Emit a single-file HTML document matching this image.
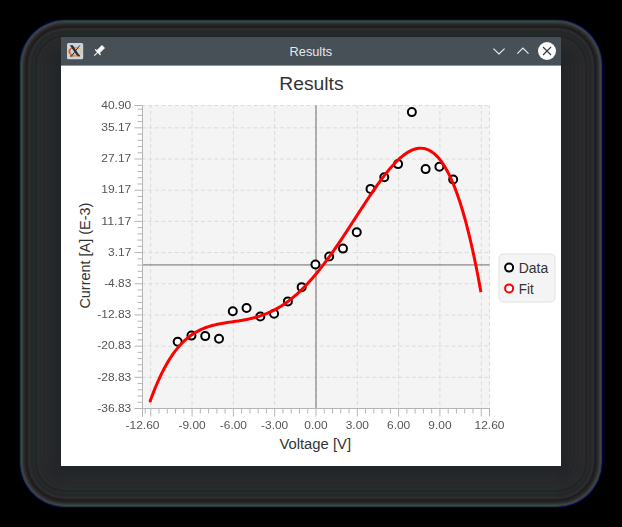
<!DOCTYPE html><html><head><meta charset="utf-8"><style>html,body{margin:0;padding:0;background:#000;width:622px;height:527px;overflow:hidden}svg{display:block}.ov{position:absolute;left:0;top:0;will-change:transform}text{font-family:"Liberation Sans",sans-serif}</style></head><body>
<svg width="622" height="527" viewBox="0 0 622 527">
<rect x="0" y="0" width="622" height="527" fill="#000"/>
<rect x="19" y="19" width="584" height="489" rx="46" fill="#00004f"/>
<rect x="20" y="20" width="582" height="487" rx="45" fill="#1f3a3c"/>
<rect x="21" y="21" width="580" height="485" rx="44" fill="#444444"/>
<rect x="22" y="22" width="578" height="483" rx="43" fill="#3a3a3a"/>
<rect x="23" y="23" width="576" height="481" rx="42" fill="#303030"/>
<rect x="24" y="24" width="574" height="479" rx="41" fill="#282828"/>
<rect x="25" y="25" width="572" height="477" rx="40" fill="#222222"/>
<rect x="26" y="26" width="570" height="475" rx="39" fill="#1e1e1e"/>
<rect x="27" y="27" width="568" height="473" rx="38" fill="#1d1d2a"/>
<rect x="28" y="28" width="566" height="471" rx="37" fill="#2d2d2d"/>
<rect x="29" y="29" width="564" height="469" rx="36" fill="#2c2c2c"/>
<rect x="30" y="30" width="562" height="467" rx="35" fill="#2a2a2a"/>
<rect x="31" y="31" width="560" height="465" rx="34" fill="#262626"/>
<rect x="32" y="32" width="558" height="463" rx="33" fill="#1e2a2a"/>
<rect x="33" y="33" width="556" height="461" rx="32" fill="#2a2a2a"/>
<rect x="34" y="34" width="554" height="459" rx="31" fill="#282828"/>
<rect x="35" y="35" width="552" height="457" rx="30" fill="#252525"/>
<rect x="36" y="36" width="550" height="455" rx="29" fill="#1e2626"/>
<rect x="37" y="37" width="548" height="453" rx="28" fill="#2b2b2c"/>
<rect x="38" y="38" width="546" height="451" rx="27" fill="#2b2b2c"/>
<rect x="39" y="39" width="544" height="449" rx="26" fill="#2a2a2c"/>
<rect x="40" y="40" width="542" height="447" rx="25" fill="#27282c"/>
<rect x="41" y="41" width="540" height="445" rx="24" fill="#292a2b"/>
<rect x="42" y="42" width="538" height="443" rx="23" fill="#292a2b"/>
<rect x="43" y="43" width="536" height="441" rx="22" fill="#29292b"/>
<rect x="44" y="44" width="534" height="439" rx="21" fill="#25272c"/>
<rect x="45" y="45" width="532" height="437" rx="20" fill="#28292b"/>
<rect x="46" y="46" width="530" height="435" rx="19" fill="#27292a"/>
<rect x="47" y="47" width="528" height="433" rx="18" fill="#27282a"/>
<rect x="48" y="48" width="526" height="431" rx="17" fill="#24262b"/>
<rect x="49" y="49" width="524" height="429" rx="16" fill="#26282a"/>
<rect x="50" y="50" width="522" height="427" rx="15" fill="#26282a"/>
<rect x="51" y="51" width="520" height="425" rx="14" fill="#26272a"/>
<rect x="52" y="52" width="518" height="423" rx="13" fill="#22252a"/>
<rect x="53" y="53" width="516" height="421" rx="12" fill="#252729"/>
<rect x="54" y="54" width="514" height="419" rx="11" fill="#242729"/>
<rect x="55" y="55" width="512" height="417" rx="10" fill="#242629"/>
<rect x="56" y="56" width="510" height="415" rx="9" fill="#21242a"/>
<rect x="57" y="57" width="508" height="413" rx="8" fill="#232629"/>
<rect x="58" y="58" width="506" height="411" rx="7" fill="#232628"/>
<rect x="59" y="59" width="504" height="409" rx="6" fill="#222528"/>
<rect x="60" y="60" width="502" height="407" rx="5" fill="#222528"/>
<rect x="61" y="66" width="500" height="400" fill="#ffffff"/>
<rect x="61" y="37" width="500" height="28" rx="1" fill="#475057"/>
<rect x="61" y="65" width="500" height="1" fill="#3daee9"/>
<rect x="67" y="43" width="16.2" height="16.2" rx="1.5" fill="#cfd3d6"/>
<defs><linearGradient id="og" x1="0" x2="1" y1="0" y2="0"><stop offset="0" stop-color="#e9501a"/><stop offset="0.45" stop-color="#ec8a40"/><stop offset="1" stop-color="#e9c57a"/></linearGradient></defs>
<ellipse cx="75.2" cy="51.4" rx="6.3" ry="3.8" fill="none" stroke="url(#og)" stroke-width="1.1"/>
<path d="M72.5,47.4 C67.5,48.2 67.6,54.4 72.5,55.4 C69.6,54.2 69.6,48.6 72.5,47.4 Z" fill="#ea5a1e"/>
<path d="M70.3,55 C72.5,56.2 76,56.2 78.5,55.4" fill="none" stroke="#ec8a3c" stroke-width="1.3"/>
<polygon points="69.8,45.3 72.8,45.3 79.3,55.3 76.7,55.3" fill="#2b2d2f"/>
<rect x="77.4" y="55.1" width="2.6" height="1.3" fill="#2b2d2f"/>
<line x1="79.8" y1="45.4" x2="71.9" y2="55.5" stroke="#2f3133" stroke-width="1"/>
<rect x="70.1" y="55.5" width="2.5" height="1.1" fill="#2f3133"/>
<g transform="translate(97.9,52.1) rotate(45)" fill="#f4f5f6"><rect x="-2.1" y="-7.9" width="4.2" height="7.9" rx="0.4"/><rect x="-3.95" y="-0.7" width="7.9" height="1.4" rx="0.6"/><rect x="-0.55" y="0" width="1.1" height="5.2" rx="0.5"/></g>
<text x="289.6" y="56" font-size="12.7" fill="#e6e8ea" textLength="42.5" lengthAdjust="spacingAndGlyphs">Results</text>
<polyline points="493.4,48.6 499,54 504.6,48.6" fill="none" stroke="#eceeef" stroke-width="1.1"/>
<polyline points="517.3,53.6 522.9,48 528.5,53.6" fill="none" stroke="#eceeef" stroke-width="1.1"/>
<circle cx="547" cy="51" r="9" fill="#fcfcfc"/>
<line x1="543" y1="47" x2="551" y2="55" stroke="#31363b" stroke-width="1.1"/><line x1="551" y1="47" x2="543" y2="55" stroke="#31363b" stroke-width="1.1"/>
<text x="279.3" y="89.7" font-size="18" fill="#333333" textLength="64.3" lengthAdjust="spacingAndGlyphs">Results</text>
<rect x="142.5" y="105.5" width="347.0" height="303.0" fill="#f4f4f4"/>
<line x1="150.76" y1="105.5" x2="150.76" y2="408.5" stroke="#dbdbdb" stroke-width="1" stroke-dasharray="4 2.59" stroke-dashoffset="1.04"/>
<line x1="192.07" y1="105.5" x2="192.07" y2="408.5" stroke="#dbdbdb" stroke-width="1" stroke-dasharray="4 2.59" stroke-dashoffset="1.04"/>
<line x1="233.38" y1="105.5" x2="233.38" y2="408.5" stroke="#dbdbdb" stroke-width="1" stroke-dasharray="4 2.59" stroke-dashoffset="1.04"/>
<line x1="274.69" y1="105.5" x2="274.69" y2="408.5" stroke="#dbdbdb" stroke-width="1" stroke-dasharray="4 2.59" stroke-dashoffset="1.04"/>
<line x1="316.00" y1="105.5" x2="316.00" y2="408.5" stroke="#dbdbdb" stroke-width="1" stroke-dasharray="4 2.59" stroke-dashoffset="1.04"/>
<line x1="357.31" y1="105.5" x2="357.31" y2="408.5" stroke="#dbdbdb" stroke-width="1" stroke-dasharray="4 2.59" stroke-dashoffset="1.04"/>
<line x1="398.62" y1="105.5" x2="398.62" y2="408.5" stroke="#dbdbdb" stroke-width="1" stroke-dasharray="4 2.59" stroke-dashoffset="1.04"/>
<line x1="439.93" y1="105.5" x2="439.93" y2="408.5" stroke="#dbdbdb" stroke-width="1" stroke-dasharray="4 2.59" stroke-dashoffset="1.04"/>
<line x1="481.24" y1="105.5" x2="481.24" y2="408.5" stroke="#dbdbdb" stroke-width="1" stroke-dasharray="4 2.59" stroke-dashoffset="1.04"/>
<line x1="489.50" y1="105.5" x2="489.50" y2="408.5" stroke="#dbdbdb" stroke-width="1" stroke-dasharray="4 2.59" stroke-dashoffset="1.04"/>
<line x1="142.5" y1="377.32" x2="489.5" y2="377.32" stroke="#dbdbdb" stroke-width="1" stroke-dasharray="4 2.59" stroke-dashoffset="0.84"/>
<line x1="142.5" y1="346.13" x2="489.5" y2="346.13" stroke="#dbdbdb" stroke-width="1" stroke-dasharray="4 2.59" stroke-dashoffset="0.84"/>
<line x1="142.5" y1="314.95" x2="489.5" y2="314.95" stroke="#dbdbdb" stroke-width="1" stroke-dasharray="4 2.59" stroke-dashoffset="0.84"/>
<line x1="142.5" y1="283.76" x2="489.5" y2="283.76" stroke="#dbdbdb" stroke-width="1" stroke-dasharray="4 2.59" stroke-dashoffset="0.84"/>
<line x1="142.5" y1="252.58" x2="489.5" y2="252.58" stroke="#dbdbdb" stroke-width="1" stroke-dasharray="4 2.59" stroke-dashoffset="0.84"/>
<line x1="142.5" y1="221.39" x2="489.5" y2="221.39" stroke="#dbdbdb" stroke-width="1" stroke-dasharray="4 2.59" stroke-dashoffset="0.84"/>
<line x1="142.5" y1="190.21" x2="489.5" y2="190.21" stroke="#dbdbdb" stroke-width="1" stroke-dasharray="4 2.59" stroke-dashoffset="0.84"/>
<line x1="142.5" y1="159.02" x2="489.5" y2="159.02" stroke="#dbdbdb" stroke-width="1" stroke-dasharray="4 2.59" stroke-dashoffset="0.84"/>
<line x1="142.5" y1="127.84" x2="489.5" y2="127.84" stroke="#dbdbdb" stroke-width="1" stroke-dasharray="4 2.59" stroke-dashoffset="0.84"/>
<line x1="142.5" y1="105.50" x2="489.5" y2="105.50" stroke="#dbdbdb" stroke-width="1" stroke-dasharray="4 2.59" stroke-dashoffset="0.84"/>
<line x1="316.00" y1="105.5" x2="316.00" y2="408.5" stroke="#6e6e6e" stroke-width="1"/>
<line x1="142.5" y1="264.93" x2="489.5" y2="264.93" stroke="#6e6e6e" stroke-width="1"/>
<line x1="142.5" y1="105.5" x2="142.5" y2="416.5" stroke="#b5b5b5" stroke-width="1"/>
<line x1="134.5" y1="408.5" x2="489.5" y2="408.5" stroke="#b5b5b5" stroke-width="1"/>
<line x1="142.50" y1="408.5" x2="142.50" y2="416.5" stroke="#b5b5b5"/>
<line x1="150.76" y1="408.5" x2="150.76" y2="416.5" stroke="#b5b5b5"/>
<line x1="192.07" y1="408.5" x2="192.07" y2="416.5" stroke="#b5b5b5"/>
<line x1="233.38" y1="408.5" x2="233.38" y2="416.5" stroke="#b5b5b5"/>
<line x1="274.69" y1="408.5" x2="274.69" y2="416.5" stroke="#b5b5b5"/>
<line x1="316.00" y1="408.5" x2="316.00" y2="416.5" stroke="#b5b5b5"/>
<line x1="357.31" y1="408.5" x2="357.31" y2="416.5" stroke="#b5b5b5"/>
<line x1="398.62" y1="408.5" x2="398.62" y2="416.5" stroke="#b5b5b5"/>
<line x1="439.93" y1="408.5" x2="439.93" y2="416.5" stroke="#b5b5b5"/>
<line x1="481.24" y1="408.5" x2="481.24" y2="416.5" stroke="#b5b5b5"/>
<line x1="489.50" y1="408.5" x2="489.50" y2="416.5" stroke="#b5b5b5"/>
<line x1="145.25" y1="408.5" x2="145.25" y2="413.5" stroke="#b5b5b5"/>
<line x1="159.02" y1="408.5" x2="159.02" y2="413.5" stroke="#b5b5b5"/>
<line x1="167.29" y1="408.5" x2="167.29" y2="413.5" stroke="#b5b5b5"/>
<line x1="175.55" y1="408.5" x2="175.55" y2="413.5" stroke="#b5b5b5"/>
<line x1="183.81" y1="408.5" x2="183.81" y2="413.5" stroke="#b5b5b5"/>
<line x1="200.33" y1="408.5" x2="200.33" y2="413.5" stroke="#b5b5b5"/>
<line x1="208.60" y1="408.5" x2="208.60" y2="413.5" stroke="#b5b5b5"/>
<line x1="216.86" y1="408.5" x2="216.86" y2="413.5" stroke="#b5b5b5"/>
<line x1="225.12" y1="408.5" x2="225.12" y2="413.5" stroke="#b5b5b5"/>
<line x1="241.64" y1="408.5" x2="241.64" y2="413.5" stroke="#b5b5b5"/>
<line x1="249.90" y1="408.5" x2="249.90" y2="413.5" stroke="#b5b5b5"/>
<line x1="258.17" y1="408.5" x2="258.17" y2="413.5" stroke="#b5b5b5"/>
<line x1="266.43" y1="408.5" x2="266.43" y2="413.5" stroke="#b5b5b5"/>
<line x1="282.95" y1="408.5" x2="282.95" y2="413.5" stroke="#b5b5b5"/>
<line x1="291.21" y1="408.5" x2="291.21" y2="413.5" stroke="#b5b5b5"/>
<line x1="299.48" y1="408.5" x2="299.48" y2="413.5" stroke="#b5b5b5"/>
<line x1="307.74" y1="408.5" x2="307.74" y2="413.5" stroke="#b5b5b5"/>
<line x1="324.26" y1="408.5" x2="324.26" y2="413.5" stroke="#b5b5b5"/>
<line x1="332.52" y1="408.5" x2="332.52" y2="413.5" stroke="#b5b5b5"/>
<line x1="340.79" y1="408.5" x2="340.79" y2="413.5" stroke="#b5b5b5"/>
<line x1="349.05" y1="408.5" x2="349.05" y2="413.5" stroke="#b5b5b5"/>
<line x1="365.57" y1="408.5" x2="365.57" y2="413.5" stroke="#b5b5b5"/>
<line x1="373.83" y1="408.5" x2="373.83" y2="413.5" stroke="#b5b5b5"/>
<line x1="382.10" y1="408.5" x2="382.10" y2="413.5" stroke="#b5b5b5"/>
<line x1="390.36" y1="408.5" x2="390.36" y2="413.5" stroke="#b5b5b5"/>
<line x1="406.88" y1="408.5" x2="406.88" y2="413.5" stroke="#b5b5b5"/>
<line x1="415.14" y1="408.5" x2="415.14" y2="413.5" stroke="#b5b5b5"/>
<line x1="423.40" y1="408.5" x2="423.40" y2="413.5" stroke="#b5b5b5"/>
<line x1="431.67" y1="408.5" x2="431.67" y2="413.5" stroke="#b5b5b5"/>
<line x1="448.19" y1="408.5" x2="448.19" y2="413.5" stroke="#b5b5b5"/>
<line x1="456.45" y1="408.5" x2="456.45" y2="413.5" stroke="#b5b5b5"/>
<line x1="464.71" y1="408.5" x2="464.71" y2="413.5" stroke="#b5b5b5"/>
<line x1="472.98" y1="408.5" x2="472.98" y2="413.5" stroke="#b5b5b5"/>
<line x1="134.5" y1="408.50" x2="142.5" y2="408.50" stroke="#b5b5b5"/>
<line x1="134.5" y1="377.32" x2="142.5" y2="377.32" stroke="#b5b5b5"/>
<line x1="134.5" y1="346.13" x2="142.5" y2="346.13" stroke="#b5b5b5"/>
<line x1="134.5" y1="314.95" x2="142.5" y2="314.95" stroke="#b5b5b5"/>
<line x1="134.5" y1="283.76" x2="142.5" y2="283.76" stroke="#b5b5b5"/>
<line x1="134.5" y1="252.58" x2="142.5" y2="252.58" stroke="#b5b5b5"/>
<line x1="134.5" y1="221.39" x2="142.5" y2="221.39" stroke="#b5b5b5"/>
<line x1="134.5" y1="190.21" x2="142.5" y2="190.21" stroke="#b5b5b5"/>
<line x1="134.5" y1="159.02" x2="142.5" y2="159.02" stroke="#b5b5b5"/>
<line x1="134.5" y1="127.84" x2="142.5" y2="127.84" stroke="#b5b5b5"/>
<line x1="134.5" y1="105.50" x2="142.5" y2="105.50" stroke="#b5b5b5"/>
<line x1="137.5" y1="402.26" x2="142.5" y2="402.26" stroke="#b5b5b5"/>
<line x1="137.5" y1="396.03" x2="142.5" y2="396.03" stroke="#b5b5b5"/>
<line x1="137.5" y1="389.79" x2="142.5" y2="389.79" stroke="#b5b5b5"/>
<line x1="137.5" y1="383.55" x2="142.5" y2="383.55" stroke="#b5b5b5"/>
<line x1="137.5" y1="371.08" x2="142.5" y2="371.08" stroke="#b5b5b5"/>
<line x1="137.5" y1="364.84" x2="142.5" y2="364.84" stroke="#b5b5b5"/>
<line x1="137.5" y1="358.60" x2="142.5" y2="358.60" stroke="#b5b5b5"/>
<line x1="137.5" y1="352.37" x2="142.5" y2="352.37" stroke="#b5b5b5"/>
<line x1="137.5" y1="339.89" x2="142.5" y2="339.89" stroke="#b5b5b5"/>
<line x1="137.5" y1="333.66" x2="142.5" y2="333.66" stroke="#b5b5b5"/>
<line x1="137.5" y1="327.42" x2="142.5" y2="327.42" stroke="#b5b5b5"/>
<line x1="137.5" y1="321.18" x2="142.5" y2="321.18" stroke="#b5b5b5"/>
<line x1="137.5" y1="308.71" x2="142.5" y2="308.71" stroke="#b5b5b5"/>
<line x1="137.5" y1="302.47" x2="142.5" y2="302.47" stroke="#b5b5b5"/>
<line x1="137.5" y1="296.23" x2="142.5" y2="296.23" stroke="#b5b5b5"/>
<line x1="137.5" y1="290.00" x2="142.5" y2="290.00" stroke="#b5b5b5"/>
<line x1="137.5" y1="277.52" x2="142.5" y2="277.52" stroke="#b5b5b5"/>
<line x1="137.5" y1="271.29" x2="142.5" y2="271.29" stroke="#b5b5b5"/>
<line x1="137.5" y1="265.05" x2="142.5" y2="265.05" stroke="#b5b5b5"/>
<line x1="137.5" y1="258.81" x2="142.5" y2="258.81" stroke="#b5b5b5"/>
<line x1="137.5" y1="246.34" x2="142.5" y2="246.34" stroke="#b5b5b5"/>
<line x1="137.5" y1="240.10" x2="142.5" y2="240.10" stroke="#b5b5b5"/>
<line x1="137.5" y1="233.86" x2="142.5" y2="233.86" stroke="#b5b5b5"/>
<line x1="137.5" y1="227.63" x2="142.5" y2="227.63" stroke="#b5b5b5"/>
<line x1="137.5" y1="215.15" x2="142.5" y2="215.15" stroke="#b5b5b5"/>
<line x1="137.5" y1="208.92" x2="142.5" y2="208.92" stroke="#b5b5b5"/>
<line x1="137.5" y1="202.68" x2="142.5" y2="202.68" stroke="#b5b5b5"/>
<line x1="137.5" y1="196.44" x2="142.5" y2="196.44" stroke="#b5b5b5"/>
<line x1="137.5" y1="183.97" x2="142.5" y2="183.97" stroke="#b5b5b5"/>
<line x1="137.5" y1="177.73" x2="142.5" y2="177.73" stroke="#b5b5b5"/>
<line x1="137.5" y1="171.49" x2="142.5" y2="171.49" stroke="#b5b5b5"/>
<line x1="137.5" y1="165.26" x2="142.5" y2="165.26" stroke="#b5b5b5"/>
<line x1="137.5" y1="152.78" x2="142.5" y2="152.78" stroke="#b5b5b5"/>
<line x1="137.5" y1="146.55" x2="142.5" y2="146.55" stroke="#b5b5b5"/>
<line x1="137.5" y1="140.31" x2="142.5" y2="140.31" stroke="#b5b5b5"/>
<line x1="137.5" y1="134.07" x2="142.5" y2="134.07" stroke="#b5b5b5"/>
<line x1="137.5" y1="121.60" x2="142.5" y2="121.60" stroke="#b5b5b5"/>
<line x1="137.5" y1="115.36" x2="142.5" y2="115.36" stroke="#b5b5b5"/>
<line x1="137.5" y1="109.13" x2="142.5" y2="109.13" stroke="#b5b5b5"/>
<text x="279.4" y="449" font-size="14" fill="#333333" textLength="71.6" lengthAdjust="spacingAndGlyphs">Voltage [V]</text>
<text transform="translate(89.8,308.6) rotate(-90)" x="0" y="0" font-size="13.8" fill="#333333" textLength="106" lengthAdjust="spacingAndGlyphs">Current [A] (E-3)</text>
<circle cx="177.69" cy="341.8" r="4" fill="#ffffff" stroke="#000000" stroke-width="2"/>
<circle cx="191.46" cy="335.6" r="4" fill="#ffffff" stroke="#000000" stroke-width="2"/>
<circle cx="205.24" cy="336.1" r="4" fill="#ffffff" stroke="#000000" stroke-width="2"/>
<circle cx="219.01" cy="338.7" r="4" fill="#ffffff" stroke="#000000" stroke-width="2"/>
<circle cx="232.79" cy="311.2" r="4" fill="#ffffff" stroke="#000000" stroke-width="2"/>
<circle cx="246.56" cy="308.0" r="4" fill="#ffffff" stroke="#000000" stroke-width="2"/>
<circle cx="260.33" cy="316.5" r="4" fill="#ffffff" stroke="#000000" stroke-width="2"/>
<circle cx="274.11" cy="313.7" r="4" fill="#ffffff" stroke="#000000" stroke-width="2"/>
<circle cx="287.88" cy="301.4" r="4" fill="#ffffff" stroke="#000000" stroke-width="2"/>
<circle cx="301.66" cy="287.15" r="4" fill="#ffffff" stroke="#000000" stroke-width="2"/>
<circle cx="315.43" cy="264.5" r="4" fill="#ffffff" stroke="#000000" stroke-width="2"/>
<circle cx="329.2" cy="256.5" r="4" fill="#ffffff" stroke="#000000" stroke-width="2"/>
<circle cx="342.98" cy="248.6" r="4" fill="#ffffff" stroke="#000000" stroke-width="2"/>
<circle cx="356.75" cy="232.3" r="4" fill="#ffffff" stroke="#000000" stroke-width="2"/>
<circle cx="370.53" cy="188.9" r="4" fill="#ffffff" stroke="#000000" stroke-width="2"/>
<circle cx="384.3" cy="177.2" r="4" fill="#ffffff" stroke="#000000" stroke-width="2"/>
<circle cx="398.07" cy="164.1" r="4" fill="#ffffff" stroke="#000000" stroke-width="2"/>
<circle cx="411.85" cy="112.1" r="4" fill="#ffffff" stroke="#000000" stroke-width="2"/>
<circle cx="425.62" cy="169.1" r="4" fill="#ffffff" stroke="#000000" stroke-width="2"/>
<circle cx="439.4" cy="166.7" r="4" fill="#ffffff" stroke="#000000" stroke-width="2"/>
<circle cx="453.17" cy="179.45" r="4" fill="#ffffff" stroke="#000000" stroke-width="2"/>
<path d="M150.19,401.10 L151.57,397.31 L152.95,393.65 L154.32,390.12 L155.70,386.73 L157.08,383.47 L158.45,380.33 L159.83,377.31 L161.21,374.42 L162.58,371.64 L163.96,368.97 L165.34,366.42 L166.72,363.97 L168.09,361.62 L169.47,359.38 L170.85,357.23 L172.22,355.18 L173.60,353.23 L174.98,351.36 L176.35,349.58 L177.73,347.89 L179.11,346.27 L180.49,344.74 L181.86,343.28 L183.24,341.90 L184.62,340.58 L185.99,339.34 L187.37,338.16 L188.75,337.04 L190.12,335.99 L191.50,335.00 L192.88,334.06 L194.26,333.17 L195.63,332.34 L197.01,331.56 L198.39,330.82 L199.76,330.13 L201.14,329.48 L202.52,328.87 L203.89,328.30 L205.27,327.76 L206.65,327.26 L208.03,326.80 L209.40,326.36 L210.78,325.95 L212.16,325.57 L213.53,325.21 L214.91,324.87 L216.29,324.55 L217.66,324.26 L219.04,323.98 L220.42,323.71 L221.80,323.46 L223.17,323.22 L224.55,322.99 L225.93,322.77 L227.30,322.56 L228.68,322.35 L230.06,322.14 L231.43,321.94 L232.81,321.74 L234.19,321.53 L235.56,321.33 L236.94,321.12 L238.32,320.91 L239.70,320.69 L241.07,320.47 L242.45,320.23 L243.83,319.99 L245.20,319.73 L246.58,319.47 L247.96,319.19 L249.33,318.89 L250.71,318.58 L252.09,318.26 L253.47,317.91 L254.84,317.55 L256.22,317.17 L257.60,316.77 L258.97,316.35 L260.35,315.90 L261.73,315.44 L263.10,314.95 L264.48,314.43 L265.86,313.89 L267.24,313.33 L268.61,312.74 L269.99,312.12 L271.37,311.48 L272.74,310.81 L274.12,310.11 L275.50,309.38 L276.87,308.62 L278.25,307.83 L279.63,307.01 L281.01,306.16 L282.38,305.29 L283.76,304.38 L285.14,303.43 L286.51,302.46 L287.89,301.46 L289.27,300.42 L290.64,299.35 L292.02,298.25 L293.40,297.12 L294.78,295.95 L296.15,294.76 L297.53,293.53 L298.91,292.27 L300.28,290.97 L301.66,289.65 L303.04,288.29 L304.41,286.90 L305.79,285.48 L307.17,284.03 L308.55,282.55 L309.92,281.04 L311.30,279.50 L312.68,277.93 L314.05,276.33 L315.43,274.70 L316.81,273.04 L318.18,271.35 L319.56,269.64 L320.94,267.90 L322.31,266.13 L323.69,264.34 L325.07,262.52 L326.45,260.68 L327.82,258.82 L329.20,256.93 L330.58,255.03 L331.95,253.10 L333.33,251.15 L334.71,249.18 L336.08,247.19 L337.46,245.19 L338.84,243.17 L340.22,241.13 L341.59,239.08 L342.97,237.02 L344.35,234.94 L345.72,232.85 L347.10,230.76 L348.48,228.65 L349.85,226.54 L351.23,224.42 L352.61,222.30 L353.99,220.17 L355.36,218.04 L356.74,215.91 L358.12,213.78 L359.49,211.66 L360.87,209.53 L362.25,207.42 L363.62,205.31 L365.00,203.20 L366.38,201.11 L367.76,199.03 L369.13,196.96 L370.51,194.91 L371.89,192.88 L373.26,190.86 L374.64,188.87 L376.02,186.89 L377.39,184.94 L378.77,183.02 L380.15,181.12 L381.53,179.26 L382.90,177.43 L384.28,175.63 L385.66,173.86 L387.03,172.14 L388.41,170.45 L389.79,168.81 L391.16,167.22 L392.54,165.67 L393.92,164.16 L395.30,162.72 L396.67,161.32 L398.05,159.98 L399.43,158.70 L400.80,157.48 L402.18,156.32 L403.56,155.23 L404.93,154.21 L406.31,153.26 L407.69,152.38 L409.06,151.58 L410.44,150.86 L411.82,150.22 L413.20,149.67 L414.57,149.20 L415.95,148.82 L417.33,148.53 L418.70,148.34 L420.08,148.25 L421.46,148.25 L422.83,148.37 L424.21,148.58 L425.59,148.91 L426.97,149.36 L428.34,149.91 L429.72,150.59 L431.10,151.39 L432.47,152.32 L433.85,153.37 L435.23,154.56 L436.60,155.88 L437.98,157.34 L439.36,158.94 L440.74,160.69 L442.11,162.58 L443.49,164.63 L444.87,166.83 L446.24,169.19 L447.62,171.72 L449.00,174.41 L450.37,177.27 L451.75,180.30 L453.13,183.51 L454.51,186.90 L455.88,190.47 L457.26,194.23 L458.64,198.18 L460.01,202.33 L461.39,206.68 L462.77,211.22 L464.14,215.98 L465.52,220.95 L466.90,226.13 L468.28,231.53 L469.65,237.15 L471.03,243.00 L472.41,249.09 L473.78,255.40 L475.16,261.96 L476.54,268.75 L477.91,275.80 L479.29,283.10 L480.67,290.65 L480.94,292.13" fill="none" stroke="#ff0000" stroke-width="3" stroke-linejoin="round" stroke-linecap="butt"/>
<circle cx="150.19" cy="401.10" r="1.5" fill="#ff0000"/>
<rect x="498.5" y="253.5" width="57" height="49" rx="5" fill="#e2e2e2"/>
<rect x="499.5" y="254.5" width="55" height="47" rx="4" fill="#f4f4f4"/>
<circle cx="509.1" cy="267.6" r="4" fill="#fff" stroke="#000" stroke-width="2"/>
<circle cx="509.1" cy="288.4" r="4" fill="#fff" stroke="#ff0000" stroke-width="2"/>
<text x="518.75" y="273" font-size="13.8" fill="#333333" textLength="29.4" lengthAdjust="spacingAndGlyphs">Data</text>
<text x="518.75" y="294" font-size="13.8" fill="#333333" textLength="14.9" lengthAdjust="spacingAndGlyphs">Fit</text>
</svg>
<svg class="ov" width="622" height="527" viewBox="0 0 622 527">
<text x="97.29" y="412" font-size="11" fill="#555555" textLength="34.01" lengthAdjust="spacingAndGlyphs">-36.83</text>
<text x="97.29" y="381" font-size="11" fill="#555555" textLength="34.01" lengthAdjust="spacingAndGlyphs">-28.83</text>
<text x="97.29" y="349" font-size="11" fill="#555555" textLength="34.01" lengthAdjust="spacingAndGlyphs">-20.83</text>
<text x="97.29" y="318" font-size="11" fill="#555555" textLength="34.01" lengthAdjust="spacingAndGlyphs">-12.83</text>
<text x="104.16" y="287" font-size="11" fill="#555555" textLength="27.14" lengthAdjust="spacingAndGlyphs">-4.83</text>
<text x="108.06" y="256" font-size="11" fill="#555555" textLength="23.24" lengthAdjust="spacingAndGlyphs">3.17</text>
<text x="101.19" y="225" font-size="11" fill="#555555" textLength="30.11" lengthAdjust="spacingAndGlyphs">11.17</text>
<text x="101.19" y="193" font-size="11" fill="#555555" textLength="30.11" lengthAdjust="spacingAndGlyphs">19.17</text>
<text x="101.19" y="162" font-size="11" fill="#555555" textLength="30.11" lengthAdjust="spacingAndGlyphs">27.17</text>
<text x="101.19" y="131" font-size="11" fill="#555555" textLength="30.11" lengthAdjust="spacingAndGlyphs">35.17</text>
<text x="101.19" y="109" font-size="11" fill="#555555" textLength="30.11" lengthAdjust="spacingAndGlyphs">40.90</text>
<text x="125.50" y="429.1" font-size="11" fill="#555555" textLength="34.01" lengthAdjust="spacingAndGlyphs">-12.60</text>
<text x="178.50" y="429.1" font-size="11" fill="#555555" textLength="27.14" lengthAdjust="spacingAndGlyphs">-9.00</text>
<text x="219.81" y="429.1" font-size="11" fill="#555555" textLength="27.14" lengthAdjust="spacingAndGlyphs">-6.00</text>
<text x="261.12" y="429.1" font-size="11" fill="#555555" textLength="27.14" lengthAdjust="spacingAndGlyphs">-3.00</text>
<text x="304.38" y="429.1" font-size="11" fill="#555555" textLength="23.24" lengthAdjust="spacingAndGlyphs">0.00</text>
<text x="345.69" y="429.1" font-size="11" fill="#555555" textLength="23.24" lengthAdjust="spacingAndGlyphs">3.00</text>
<text x="387.00" y="429.1" font-size="11" fill="#555555" textLength="23.24" lengthAdjust="spacingAndGlyphs">6.00</text>
<text x="428.31" y="429.1" font-size="11" fill="#555555" textLength="23.24" lengthAdjust="spacingAndGlyphs">9.00</text>
<text x="474.45" y="429.1" font-size="11" fill="#555555" textLength="30.11" lengthAdjust="spacingAndGlyphs">12.60</text>
</svg></body></html>
